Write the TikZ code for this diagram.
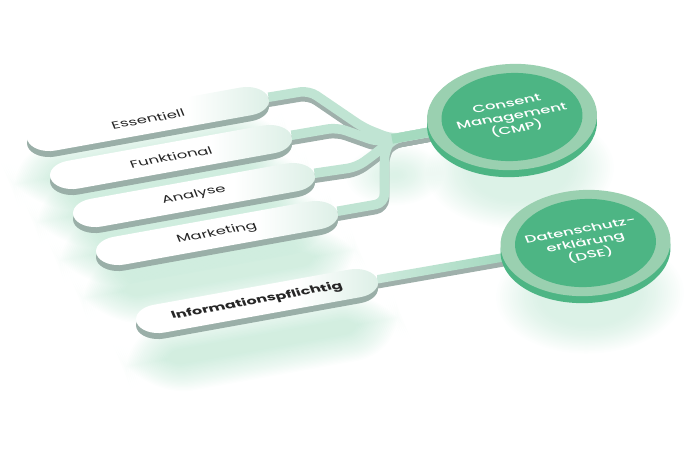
\documentclass[tikz,border=0pt]{standalone}
\usepackage{fontspec}
\setmainfont{Poppins}
\newfontfamily\hubfont{Poppins Medium}
\usetikzlibrary{calc,shapes.misc}

\definecolor{pilldepth}{HTML}{9AAFA8}
\definecolor{pillend}{HTML}{DCEFE6}
\definecolor{linkgreen}{HTML}{C0E4D3}
\definecolor{linkdepth}{HTML}{9FB0AB}
\definecolor{trunkgreen}{HTML}{A5DABF}
\definecolor{ringgreen}{HTML}{9AD0B0}
\definecolor{coregreen}{HTML}{4DB584}
\definecolor{glowgreen}{HTML}{6CC79A}
\pgfdeclarehorizontalshading{pillfade}{100bp}{color(0bp)=(white);color(58bp)=(white);color(75bp)=(pillend);color(100bp)=(pillend)}
\pgfdeclarelayer{glow}
\pgfdeclarelayer{links}
\pgfsetlayers{glow,links,main}

\tikzset{
  tilted/.style={cm={.97,.175,-.243,.6,(0,0)}},
  pillshape/.style={transform shape, rounded rectangle, rounded rectangle arc length=180, minimum width=248pt, minimum height=46pt, inner sep=0pt},
  pillbox/.style={pillshape, shade, shading=pillfade, font=\fontsize{16.5}{18}\selectfont, text=black!85},
  ringbox/.style={transform shape, circle, minimum size=170pt, inner sep=0pt, fill=ringgreen},
  corebox/.style={transform shape, circle, minimum size=141pt, inner sep=0pt, fill=coregreen, text=white, align=center, font=\hubfont\fontsize{16.5}{21}\selectfont},
  linkstroke/.style={line width=9.5pt, rounded corners=9pt, line join=round}
}

\newcommand{\softglow}[2]{%
  \begin{scope}[shift={(#1,#2)},tilted]
    \foreach \g in {0,2,...,44}
      \fill[glowgreen, fill opacity=.015, rounded corners=16pt+\g*1pt] (-100-\g,-12-\g) rectangle (100+\g,12+\g);
  \end{scope}}
\newcommand{\roundglow}[3]{%
  \foreach \g in {0,2,...,44}
    \fill[glowgreen, fill opacity=.012, shift={(#1,#2)}, tilted] (0,0) circle (#3pt+\g*1pt);}

\newcommand{\pillnode}[4]{%
  \begin{scope}[shift={(#2,#3+6)},tilted]
    \node[pillshape, fill=pilldepth] at (0,0) {};
  \end{scope}
  \begin{scope}[shift={(#2,#3)},tilted]
    \node[pillbox] (#1) at (0,0) {#4};
  \end{scope}}
\newcommand{\hubnode}[4]{%
  \begin{scope}[shift={(#2,#3+7)},tilted]
    \fill[coregreen] (0,0) circle (85pt);
  \end{scope}
  \begin{scope}[shift={(#2,#3)},tilted]
    \node[ringbox] (#1) at (0,0) {};
    \node[corebox] (#1core) at (0,0) {#4};
  \end{scope}}

% all four links of the first hub, with a colour and a drop
\newcommand{\linkroutes}[2]{%
  \draw[linkstroke, draw=#1] ([yshift=#2]essentiell.east) -- ([yshift=#2]e1) -- ([yshift=#2]e2) -- ([yshift=#2]hub) -- ([yshift=#2]cmp.center);
  \draw[linkstroke, draw=#1] ([yshift=#2]funktional.east) -- ([yshift=#2]f1) -- ([yshift=#2]f2) -- ([yshift=#2]hub) -- ([yshift=#2]cmp.center);
  \draw[linkstroke, draw=#1] ([yshift=#2]analyse.east) -- ([yshift=#2]a1) -- ([yshift=#2]a2) -- ([yshift=#2]hub) -- ([yshift=#2]cmp.center);
  \draw[linkstroke, draw=#1] ([yshift=#2]marketing.east) -- ([yshift=#2]m1) -- ([yshift=#2]m2) -- ([yshift=#2]hub) -- ([yshift=#2]cmp.center);}

\begin{document}
\begin{tikzpicture}[x=1pt,y=-1pt]
  \useasboundingbox (0,0) rectangle (700,450);

  % Soft glow under the boards
  \begin{pgfonlayer}{glow}
    \softglow{150}{160}
    \softglow{173}{198}
    \softglow{196}{236}
    \softglow{219}{274}
    \softglow{262}{342}
    \roundglow{520}{170}{50}
    \roundglow{590}{295}{50}
    \roundglow{395}{175}{5}
  \end{pgfonlayer}

  % Boards, drawn from the front to the back
  \pillnode{info}{257}{301}{\fontsize{16}{18}\selectfont\bfseries Informationspflichtig}
  \pillnode{marketing}{217}{233}{Marketing}
  \pillnode{analyse}{194}{195}{Analyse}
  \pillnode{funktional}{171}{157}{Funktional}
  \pillnode{essentiell}{148}{119}{Essentiell}

  % Hubs
  \hubnode{cmp}{512}{117}{Consent\\Management\\(CMP)}
  \hubnode{dse}{585.5}{243}{Datenschutz-\\erklärung\\(DSE)}

  % Bends of the links
  \coordinate (hub) at (392,139);
  \coordinate (e1) at (309,90.5);
  \coordinate (e2) at (364,128);
  \coordinate (f1) at (337,127.5);
  \coordinate (f2) at (378,142);
  \coordinate (a1) at (357,167);
  \coordinate (a2) at (380,150);
  \coordinate (m1) at (384.5,203);
  \coordinate (m2) at (384.5,150);

  % Links, behind the boards
  \begin{pgfonlayer}{links}
    \linkroutes{linkdepth}{-5pt}
    \linkroutes{linkgreen}{0pt}
    \draw[linkstroke, draw=trunkgreen] (hub) -- (cmp.center);
    \draw[linkstroke, line width=8.5pt, draw=linkdepth] ([yshift=-5pt]info.east) -- ([yshift=-5pt]dse.center);
    \path[left color=linkgreen!80, right color=trunkgreen!70!coregreen] ([yshift=4.3pt]info.east) -- ([yshift=4.3pt]dse.center) -- ([yshift=-4.3pt]dse.center) -- ([yshift=-4.3pt]info.east) -- cycle;
  \end{pgfonlayer}
\end{tikzpicture}
\end{document}
